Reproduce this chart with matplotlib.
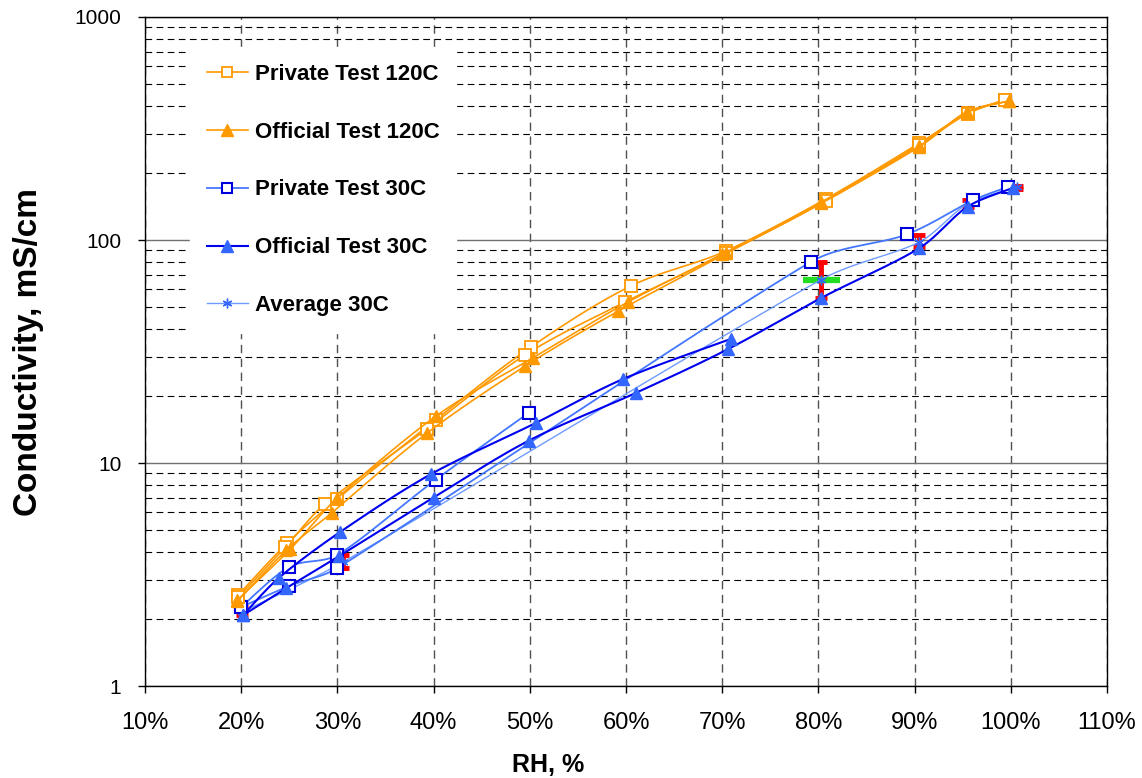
import numpy as np
import matplotlib
matplotlib.use("Agg")
import matplotlib.pyplot as plt
from matplotlib.lines import Line2D
from matplotlib.ticker import FixedLocator, FuncFormatter, NullFormatter

plt.rcParams['font.family'] = ['Liberation Sans', 'DejaVu Sans']

# ---- data (RH in %, conductivity in mS/cm), two passes per test ----
priv120_rh_a = [19.7, 24.8, 30.0, 40.2, 50.1, 60.5, 70.4, 80.8, 90.5, 95.5, 99.4]
priv120_val_a = [2.56, 4.38, 6.9, 15.6, 33.1, 62.2, 89.3, 153, 272, 371, 425]
priv120_rh_b = [99.4, 95.5, 90.5, 80.8, 70.4, 59.9, 49.5, 39.3, 28.7, 24.6, 19.7]
priv120_val_b = [425, 368, 268, 150, 87.5, 52.7, 30.5, 14.2, 6.55, 4.2, 2.5]

off120_rh_a = [19.6, 25.1, 30.0, 40.3, 50.3, 60.2, 70.0, 80.3, 90.5, 95.4, 99.8]
off120_val_a = [2.43, 4.11, 6.97, 16.3, 29.6, 52.7, 86.5, 148, 264, 375, 420]
off120_rh_b = [99.8, 95.4, 90.5, 80.3, 70.4, 59.2, 49.5, 39.3, 29.4, 24.7, 19.6]
off120_val_b = [420, 372, 262, 146, 87, 48, 27.2, 13.6, 5.97, 4.07, 2.4]

priv30_rh_a = [20.0, 25.0, 30.0, 40.2, 49.9]
priv30_val_a = [2.26, 3.42, 3.87, 8.4, 16.8]
priv30_rh_b = [20.0, 25.0, 30.0, 79.2, 89.2, 96.1, 99.7]
priv30_val_b = [2.26, 2.81, 3.38, 79.7, 106, 151, 173]

off30_rh_a = [20.2, 23.9, 30.3, 39.7, 50.6, 59.7, 70.9]
off30_val_a = [2.08, 3.05, 4.91, 8.9, 15.1, 23.8, 36]
off30_rh_b = [20.2, 24.7, 30.2, 40.0, 49.9, 61.0, 70.6, 80.3, 90.5, 95.5, 100.2]
off30_val_b = [2.08, 2.75, 3.83, 7.0, 12.6, 20.6, 32.4, 55, 92, 141, 171]

avg30_rh = [20.1, 30.6, 80.3, 90.5, 95.5, 100.6]
avg30_val = [2.15, 3.6, 66.5, 98, 145, 172]
avg30_low = [2.08, 3.38, 55, 93, 140, 170]
avg30_high = [2.26, 3.87, 80, 105, 151, 174]
avg30_rh_spread = 1.9   # horizontal (green) bar at 80 %

x_ticks = [10, 20, 30, 40, 50, 60, 70, 80, 90, 100, 110]
y_ticks = [1, 10, 100, 1000]

ORANGE = '#FF9900'
BLUE_DARK = '#0000F0'
BLUE_MID = '#3366FF'
BLUE_LINE = '#4477FF'
BLUE_LIGHT = '#6F9BFF'


def smooth(ax, xs, ys, n=24):
    # Excel-like smoothed line (Bezier through points) built in display space
    pts = ax.transData.transform(np.column_stack([xs, ys]))
    p = np.vstack([pts[0], pts, pts[-1]])
    segs = []
    t = np.linspace(0, 1, n)[:, None]
    for i in range(1, len(p) - 2):
        p0, p1, p2, p3 = p[i - 1], p[i], p[i + 1], p[i + 2]
        chord = np.hypot(*(p2 - p1))
        a1 = (p2 - p0) / 6
        a2 = (p3 - p1) / 6
        # keep control arms short so long neighbour segments do not overshoot
        for a in (a1, a2):
            la = np.hypot(*a)
            if la > chord / 3:
                a *= (chord / 3) / la
        c1 = p1 + a1
        c2 = p2 - a2
        segs.append((1 - t) ** 3 * p1 + 3 * (1 - t) ** 2 * t * c1
                    + 3 * (1 - t) * t ** 2 * c2 + t ** 3 * p2)
    data = ax.transData.inverted().transform(np.vstack(segs))
    return data[:, 0], data[:, 1]


fig = plt.figure(figsize=(11.42, 7.78), dpi=100)
ax = fig.add_axes([145 / 1142, 1 - 686 / 778, 962 / 1142, 669 / 778])
ax.set_yscale('log')
ax.set_xlim(10, 110)
ax.set_ylim(1, 1000)

# grid
ax.xaxis.set_major_locator(FixedLocator(x_ticks))
ax.xaxis.set_major_formatter(FuncFormatter(lambda v, p: f"{int(v)}%"))
ax.yaxis.set_major_locator(FixedLocator(y_ticks))
ax.yaxis.set_major_formatter(FuncFormatter(lambda v, p: f"{int(v)}"))
ax.yaxis.set_minor_formatter(NullFormatter())
ax.grid(which='major', axis='y', color='#707070', linestyle='-', linewidth=1.0)
ax.grid(which='minor', axis='y', color='black', linestyle=(0, (6, 4)), linewidth=0.8)
ax.grid(which='major', axis='x', color='#505050', linestyle=(0, (6, 4)), linewidth=1.0)
ax.set_axisbelow(True)
ax.tick_params(axis='both', which='major', direction='out', length=5, width=1,
               colors='black')
ax.tick_params(axis='y', which='major', pad=12, labelsize=15)
ax.tick_params(axis='x', which='major', pad=14, labelsize=17)
ax.tick_params(axis='y', which='minor', length=0)
for s in ax.spines.values():
    s.set_color('black')
    s.set_linewidth(1.0)

# error bars of the average
yerr = [np.array(avg30_val) - np.array(avg30_low), np.array(avg30_high) - np.array(avg30_val)]
ax.errorbar(avg30_rh, avg30_val, yerr=yerr, fmt='none', ecolor='red',
            elinewidth=3.5, capsize=4.5, capthick=3.5, zorder=2)
ax.errorbar([avg30_rh[2]], [avg30_val[2]], xerr=[avg30_rh_spread], fmt='none',
            ecolor='#22DD22', elinewidth=4.5, capsize=0, zorder=2.1)


def draw(xs, ys, color, lw, marker, ms, mfc, mec, mew=1.2, z=3):
    sx, sy = smooth(ax, xs, ys)
    ax.plot(sx, sy, color=color, lw=lw, zorder=z)
    ax.plot(xs, ys, linestyle='none', marker=marker, ms=ms, mfc=mfc, mec=mec,
            mew=mew, zorder=z + 0.5)


draw(avg30_rh, avg30_val, BLUE_LIGHT, 1.0, (6, 2, 0), 7, BLUE_MID, BLUE_MID, 1.0, z=3)
draw(priv30_rh_a, priv30_val_a, BLUE_LINE, 1.3, 's', 8, 'white', '#0000DD', 1.5, z=4)
draw(priv30_rh_b, priv30_val_b, BLUE_LINE, 1.3, 's', 8, 'white', '#0000DD', 1.5, z=4)
draw(off30_rh_a, off30_val_a, BLUE_DARK, 1.5, '^', 9, BLUE_MID, BLUE_MID, 1.0, z=5)
draw(off30_rh_b, off30_val_b, BLUE_DARK, 1.5, '^', 9, BLUE_MID, BLUE_MID, 1.0, z=5)
draw(priv120_rh_a, priv120_val_a, ORANGE, 1.2, 's', 8, 'white', ORANGE, 1.3, z=6)
draw(priv120_rh_b, priv120_val_b, ORANGE, 1.2, 's', 8, 'white', ORANGE, 1.3, z=6)
draw(off120_rh_a, off120_val_a, ORANGE, 1.2, '^', 9, ORANGE, ORANGE, 1.0, z=7)
draw(off120_rh_b, off120_val_b, ORANGE, 1.2, '^', 9, ORANGE, ORANGE, 1.0, z=7)

handles = [
    Line2D([], [], color=ORANGE, lw=1.2, marker='s', ms=7, mfc='white', mec=ORANGE, mew=1.3),
    Line2D([], [], color=ORANGE, lw=1.2, marker='^', ms=8, mfc=ORANGE, mec=ORANGE),
    Line2D([], [], color=BLUE_LINE, lw=1.3, marker='s', ms=7, mfc='white', mec='#0000DD', mew=1.5),
    Line2D([], [], color=BLUE_DARK, lw=1.5, marker='^', ms=8, mfc=BLUE_MID, mec=BLUE_MID),
    Line2D([], [], color=BLUE_LIGHT, lw=1.0, marker=(6, 2, 0), ms=7, mfc=BLUE_MID, mec=BLUE_MID),
]
labels = ['Private Test 120C', 'Official Test 120C', 'Private Test 30C',
          'Official Test 30C', 'Average 30C']
leg = ax.legend(handles, labels, loc='upper left',
                bbox_to_anchor=(190 / 1142, 1 - 47 / 778), bbox_transform=fig.transFigure,
                borderaxespad=0,
                frameon=True, facecolor='white', edgecolor='white', framealpha=1,
                fancybox=False, borderpad=0.75, labelspacing=1.66,
                handlelength=1.85, handletextpad=0.32,
                prop={'weight': 'bold', 'size': 16})
leg.set_zorder(10)

ax.set_ylabel('Conductivity, mS/cm', fontsize=24, fontweight='bold')
ax.yaxis.set_label_coords(-0.105, 0.5)
fig.text(548 / 1142, 1 - 765 / 778, 'RH, %', fontsize=18, fontweight='bold',
         ha='center', va='center')

fig.savefig('out.png', dpi=100)
